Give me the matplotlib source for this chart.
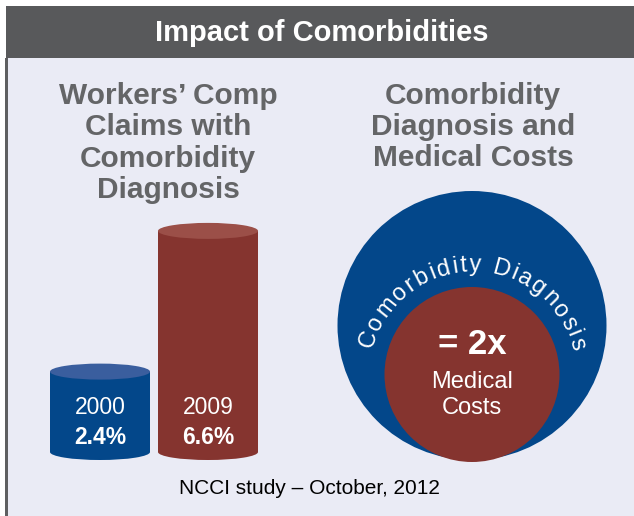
import numpy as np
import matplotlib
matplotlib.use("Agg")
import matplotlib.pyplot as plt
from matplotlib.patches import Rectangle, Ellipse, Circle

plt.rcParams['font.family'] = ['Liberation Sans', 'DejaVu Sans']

# data
years = ['2000', '2009']
shares = [2.4, 6.6]  # % of claims with comorbidity diagnosis
cyl_colors = ['#03478a', '#85342f']
cyl_top_colors = ['#3a5e9e', '#9b4f48']
cost_multiple = '= 2x'
cost_label = ['Medical', 'Costs']
header = 'Impact of Comorbidities'
left_title = 'Workers\u2019 Comp\nClaims with\nComorbidity\nDiagnosis'
right_title = 'Comorbidity\nDiagnosis and\nMedical Costs'
arc_label = 'Comorbidity Diagnosis'
source = 'NCCI study \u2013 October, 2012'

W, H = 634, 516
fig = plt.figure(figsize=(W / 100, H / 100), dpi=100)
fig.patch.set_facecolor('white')
ax = fig.add_axes([0, 0, 1, 1])
ax.set_xlim(0, W)
ax.set_ylim(H, 0)
ax.axis('off')

# panel + header
ax.add_patch(Rectangle((6, 58), W - 6, H - 58, facecolor='#eaebf5', edgecolor='none'))
ax.add_patch(Rectangle((5, 58), 2.5, H - 58, facecolor='#5e5f61', edgecolor='none'))
ax.add_patch(Rectangle((6, 6), W - 6, 52, facecolor='#58595b', edgecolor='none'))
ax.text(322, 33, header, color='white', fontsize=21, fontweight='bold',
        ha='center', va='center')

title_col = '#646567'
ax.text(168, 143, left_title, color=title_col, fontsize=21.5, fontweight='bold',
        ha='center', va='center', linespacing=1.15)
ax.text(473, 127, right_title, color=title_col, fontsize=21.5, fontweight='bold',
        ha='center', va='center', linespacing=1.15)

# cylinders
base_y = 452
px_per_pct = 33.5
cyl_w = 100
ell_h = 16
lefts = [50, 158]
for i, (yr, v) in enumerate(zip(years, shares)):
    x0 = lefts[i]
    h = v * px_per_pct
    top_y = base_y - h
    ax.add_patch(Ellipse((x0 + cyl_w / 2, base_y), cyl_w, ell_h, facecolor=cyl_colors[i], edgecolor='none'))
    ax.add_patch(Rectangle((x0, top_y), cyl_w, h, facecolor=cyl_colors[i], edgecolor='none'))
    ax.add_patch(Ellipse((x0 + cyl_w / 2, top_y), cyl_w, ell_h, facecolor=cyl_top_colors[i], edgecolor='none'))
    ax.text(x0 + cyl_w / 2, 407, yr, color='white', fontsize=16.5, ha='center', va='center')
    ax.text(x0 + cyl_w / 2, 437, f'{v}%', color='white', fontsize=16.5, fontweight='bold',
            ha='center', va='center')

# circles
ax.add_patch(Circle((472, 325.5), 134.5, facecolor='#03478a', edgecolor='none'))
ax.add_patch(Circle((472, 374.5), 87.5, facecolor='#85342f', edgecolor='none'))
ax.text(472, 345, cost_multiple, color='white', fontsize=25, fontweight='bold',
        ha='center', va='center')
ax.text(472, 382, cost_label[0], color='white', fontsize=17, ha='center', va='center')
ax.text(472, 408, cost_label[1], color='white', fontsize=17, ha='center', va='center')

# curved label, letter by letter along an arc
cx, cy, r = 472, 374.5, 103
fs = 17
renderer = fig.canvas.get_renderer()
widths = []
for ch in arc_label:
    t = ax.text(0, 0, ch if ch != ' ' else 'i', fontsize=fs)
    widths.append(t.get_window_extent(renderer).width)
    t.remove()
start_deg, end_deg = 166, 13
arc_len = np.deg2rad(start_deg - end_deg) * r
spacing = (arc_len - sum(widths)) / (len(widths) - 1)
pos = 0.0
for ch, w in zip(arc_label, widths):
    theta = start_deg - np.rad2deg((pos + w / 2) / r)
    t = np.deg2rad(theta)
    ax.text(cx + r * np.cos(t), cy - r * np.sin(t), ch, color='white', fontsize=fs,
            rotation=theta - 90, rotation_mode='anchor', ha='center', va='baseline')
    pos += w + spacing

ax.text(309, 489, source, color='black', fontsize=15, ha='center', va='center')

fig.savefig('out.png', dpi=100)
